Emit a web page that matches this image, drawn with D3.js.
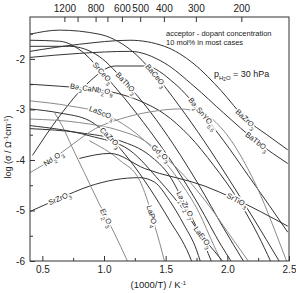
<!DOCTYPE html>
<html>
<head>
<meta charset="utf-8">
<script src="https://cdn.jsdelivr.net/npm/d3@7"></script>
<style>
body { margin: 0; background: #fff; }
text { font-family: "Liberation Sans", Arial, sans-serif; fill: #222; }
</style>
</head>
<body>
<svg id="chart"></svg>
<script>
var margin = {top: 17, right: 7, bottom: 32, left: 30},
    width = 296 - margin.left - margin.right,
    height = 293 - margin.top - margin.bottom;

// x = 1000/T (K^-1), y = log(sigma)
var xTicks = [0.5, 1.0, 1.5, 2.0, 2.5];
var yTicks = [-6, -5, -4, -3, -2];
var topLabels = [1200, 800, 600, 500, 400, 300, 200];
var topTicks = [1200, 1000, 800, 700, 600, 500, 400, 300, 200];

var names = ["BaZrO3", "BaTbO3", "BaCeO3", "SrCeO3", "BaThO3", "Ba2SnYO5.5", "Ba3CaNb2O9",
    "LaScO3", "CaZrO3", "Gd2O3", "La2Zr2O7", "SrZrO3", "Nd2O3", "Er2O3", "LaPO4", "LaErO3", "SrTiO3"];

var BaZrO3 = [[0.40,-1.85],[0.80,-1.71],[1.21,-1.63],[1.49,-1.75],[1.73,-2.10],[1.95,-2.63],[2.15,-3.19],[2.32,-3.50],[2.49,-3.80]];
var BaTbO3 = [[0.40,-1.97],[0.80,-1.89],[1.21,-1.85],[1.49,-2.08],[1.73,-2.54],[1.97,-3.07],[2.24,-3.64],[2.49,-4.07]];
var BaCeO3 = [[0.40,-1.51],[0.64,-1.43],[0.96,-1.51],[1.21,-1.81],[1.41,-2.30],[1.61,-2.93],[1.81,-3.62],[2.01,-4.37],[2.21,-5.15],[2.42,-6.0]];
var SrCeO3 = [[0.40,-1.63],[0.64,-1.65],[0.84,-1.89],[0.99,-2.28],[1.17,-2.79],[1.37,-3.42],[1.57,-4.11],[1.77,-4.90],[1.95,-5.69],[2.03,-6.0]];
var BaThO3 = [[0.40,-1.75],[0.72,-1.75],[0.96,-1.95],[1.18,-2.48],[1.37,-3.03],[1.57,-3.72],[1.77,-4.50],[1.97,-5.35],[2.13,-6.0]];
var Ba2SnYO55 = [[0.42,-3.91],[0.64,-3.13],[0.86,-2.50],[1.09,-2.14],[1.33,-2.14],[1.57,-2.48],[1.80,-3.09],[1.97,-3.62],[2.17,-4.31],[2.34,-4.90],[2.49,-5.43]];
var Ba3CaNb2O9 = [[0.40,-2.50],[0.64,-2.54],[0.88,-2.59],[1.09,-2.67],[1.29,-2.83],[1.49,-3.09],[1.69,-3.52],[1.89,-4.11],[2.09,-4.80],[2.25,-5.49],[2.35,-6.0]];
var LaScO3 = [[0.40,-2.83],[0.72,-2.93],[0.98,-3.07],[1.21,-3.38],[1.41,-3.81],[1.61,-4.41],[1.77,-5.04],[1.89,-5.69],[1.95,-6.0]];
var CaZrO3 = [[0.40,-2.99],[0.64,-3.07],[0.88,-3.22],[1.05,-3.56],[1.21,-4.01],[1.37,-4.56],[1.53,-5.19],[1.69,-5.88],[1.71,-6.0]];
var Gd2O3 = [[0.40,-3.19],[0.80,-3.26],[1.13,-3.42],[1.33,-3.62],[1.46,-3.87],[1.65,-4.31],[1.85,-4.90],[2.05,-5.59],[2.17,-6.0]];
var La2Zr2O7 = [[0.40,-3.38],[0.80,-3.46],[1.13,-3.62],[1.37,-3.91],[1.53,-4.31],[1.66,-4.90],[1.77,-5.43],[1.87,-6.0]];
var SrZrO3 = [[0.40,-5.02],[0.64,-4.76],[0.88,-4.52],[1.09,-4.39],[1.29,-4.35],[1.41,-4.44],[1.53,-4.80],[1.65,-5.29],[1.75,-5.78],[1.78,-6.0]];
var Nd2O3 = [[0.40,-4.25],[0.59,-3.97],[0.74,-3.70],[0.93,-3.38],[1.13,-3.19],[1.37,-3.05],[1.61,-2.99],[1.81,-3.09],[1.97,-3.42],[2.13,-4.01],[2.27,-4.70],[2.40,-5.49],[2.48,-6.0]];
var Er2O3 = [[0.60,-3.07],[0.66,-3.32],[0.74,-3.74],[0.84,-4.25],[0.96,-4.86],[1.08,-5.43],[1.19,-6.0]];
var LaPO4 = [[0.88,-3.62],[1.13,-4.01],[1.29,-4.41],[1.37,-4.94],[1.41,-5.29],[1.45,-5.63],[1.49,-6.0]];
var LaErO3 = [[0.40,-3.32],[0.88,-3.52],[1.21,-3.81],[1.45,-4.41],[1.65,-5.00],[1.80,-5.53],[1.90,-5.82],[1.96,-6.0]];
var SrTiO3 = [[0.80,-3.97],[1.05,-3.87],[1.33,-4.17],[1.82,-4.52],[2.05,-4.76],[2.49,-5.31]];

var curves = [BaZrO3, BaTbO3, BaCeO3, SrCeO3, BaThO3, Ba2SnYO55, Ba3CaNb2O9,
    LaScO3, CaZrO3, Gd2O3, La2Zr2O7, SrZrO3, Nd2O3, Er2O3, LaPO4, LaErO3, SrTiO3];
var grey = [false, false, false, false, false, false, false,
    true, false, true, false, false, true, true, true, false, false];

// where each label sits on its curve (x value)
var labelAt = [2.15, 2.24, 1.42, 0.99, 1.18, 1.80, 0.90, 0.98, 1.05, 1.46, 1.66, 0.64, 0.59, 1.02, 1.39, 1.80, 2.08];

var x = d3.scaleLinear().domain([0.4, 2.5]).range([0, width]);
var y = d3.scaleLinear().domain([-6, -1.17]).range([height, 0]);

var svg = d3.select("#chart")
    .attr("width", width + margin.left + margin.right)
    .attr("height", height + margin.top + margin.bottom)
    .append("g")
    .attr("transform", "translate(" + margin.left + "," + margin.top + ")");

svg.append("defs").append("clipPath").attr("id", "clip")
    .append("rect").attr("width", width).attr("height", height);

var line = d3.line()
    .x(function(d) { return x(d[0]); })
    .y(function(d) { return y(d[1]); })
    .curve(d3.curveMonotoneX);

var plot = svg.append("g").attr("clip-path", "url(#clip)");
curves.forEach(function(c, i) {
    plot.append("path")
        .datum(c)
        .attr("fill", "none")
        .attr("stroke", grey[i] ? "#8a8a8a" : "#333")
        .attr("stroke-width", 1)
        .attr("d", line);
});

// labels along the curves
function valueAt(c, xv) {
    for (var k = 1; k < c.length; k++) {
        if (xv <= c[k][0]) {
            var t = (xv - c[k-1][0]) / (c[k][0] - c[k-1][0]);
            return c[k-1][1] + t * (c[k][1] - c[k-1][1]);
        }
    }
    return c[c.length-1][1];
}
function addLabel(g, name) {
    var parts = name.split(/(\d+(?:\.\d+)?)/);
    parts.forEach(function(p) {
        if (p === "") return;
        if (/^\d/.test(p)) {
            g.append("tspan").attr("baseline-shift", "sub").style("font-size", "5.5px").text(p);
        } else {
            g.append("tspan").text(p);
        }
    });
}
names.forEach(function(n, i) {
    var c = curves[i], xv = labelAt[i];
    var px = x(xv), py = y(valueAt(c, xv));
    var p1 = [x(xv - 0.03), y(valueAt(c, xv - 0.03))];
    var p2 = [x(xv + 0.03), y(valueAt(c, xv + 0.03))];
    var ang = Math.atan2(p2[1] - p1[1], p2[0] - p1[0]) * 180 / Math.PI;
    var t = svg.append("text")
        .attr("transform", "translate(" + px + "," + py + ") rotate(" + ang + ")")
        .attr("text-anchor", "middle")
        .attr("dy", "0.33em")
        .style("font-size", "7.5px")
        .style("stroke", "#fff")
        .style("stroke-width", 3)
        .style("paint-order", "stroke");
    addLabel(t, n);
});

// frame
svg.append("rect")
    .attr("width", width).attr("height", height)
    .attr("fill", "none").attr("stroke", "#333").attr("stroke-width", 1);

var fmt = function(d) { return d.toFixed(1); };
svg.append("g")
    .attr("transform", "translate(0," + height + ")")
    .call(d3.axisBottom(x).tickValues(xTicks).tickFormat(fmt).tickSizeInner(-5).tickSizeOuter(0).tickPadding(5))
    .call(function(g) { g.select(".domain").remove(); });
svg.append("g")
    .attr("transform", "translate(0," + height + ")")
    .call(d3.axisBottom(x).tickValues(d3.range(0.75, 2.5, 0.5)).tickFormat("").tickSizeInner(-3).tickSizeOuter(0))
    .call(function(g) { g.select(".domain").remove(); });
svg.append("g")
    .call(d3.axisLeft(y).tickValues(yTicks).tickFormat(function(d) { return "-" + Math.abs(d); }).tickSizeInner(-5).tickSizeOuter(0).tickPadding(5))
    .call(function(g) { g.select(".domain").remove(); });
svg.append("g")
    .call(d3.axisLeft(y).tickValues([-5.5, -4.5, -3.5, -2.5, -1.5]).tickFormat("").tickSizeInner(-3).tickSizeOuter(0))
    .call(function(g) { g.select(".domain").remove(); });
svg.append("g")
    .call(d3.axisTop(x).tickValues(topTicks.map(function(t) { return 1000 / (t + 273.15); }))
        .tickFormat(function(d) {
            var c = Math.round(1000 / d - 273.15);
            return topLabels.indexOf(c) >= 0 ? c : "";
        })
        .tickSizeInner(-5).tickSizeOuter(0).tickPadding(5))
    .call(function(g) { g.select(".domain").remove(); });

svg.selectAll(".tick text").style("font-size", "10px").attr("fill", "#222");
svg.selectAll(".tick line").attr("stroke", "#333");

// axis titles
var yl = svg.append("text")
    .attr("transform", "translate(-19," + (height / 2 + 8) + ") rotate(-90)")
    .attr("text-anchor", "middle")
    .style("font-size", "9px");
yl.append("tspan").text("log (σ / Ω");
yl.append("tspan").attr("baseline-shift", "super").style("font-size", "6px").text("-1");
yl.append("tspan").text("cm");
yl.append("tspan").attr("baseline-shift", "super").style("font-size", "6px").text("-1");
yl.append("tspan").text(")");

var xl = svg.append("text")
    .attr("x", x(1.44)).attr("y", height + 27)
    .attr("text-anchor", "middle")
    .style("font-size", "9.5px");
xl.append("tspan").text("(1000/T) / K");
xl.append("tspan").attr("baseline-shift", "super").style("font-size", "6px").text("-1");

// notes
svg.append("text").attr("x", 136).attr("y", 19).style("font-size", "7.5px")
    .text("acceptor - dopant concentration");
svg.append("text").attr("x", 136).attr("y", 28).style("font-size", "7.5px")
    .text("10 mol% in most cases");
var ph = svg.append("text").attr("x", 184).attr("y", 60).style("font-size", "9px");
ph.append("tspan").text("p");
ph.append("tspan").attr("baseline-shift", "sub").style("font-size", "6px").text("H");
ph.append("tspan").attr("baseline-shift", "-4").style("font-size", "4.5px").text("2");
ph.append("tspan").attr("baseline-shift", "sub").style("font-size", "6px").text("O");
ph.append("tspan").text(" = 30 hPa");
</script>
</body>
</html>
